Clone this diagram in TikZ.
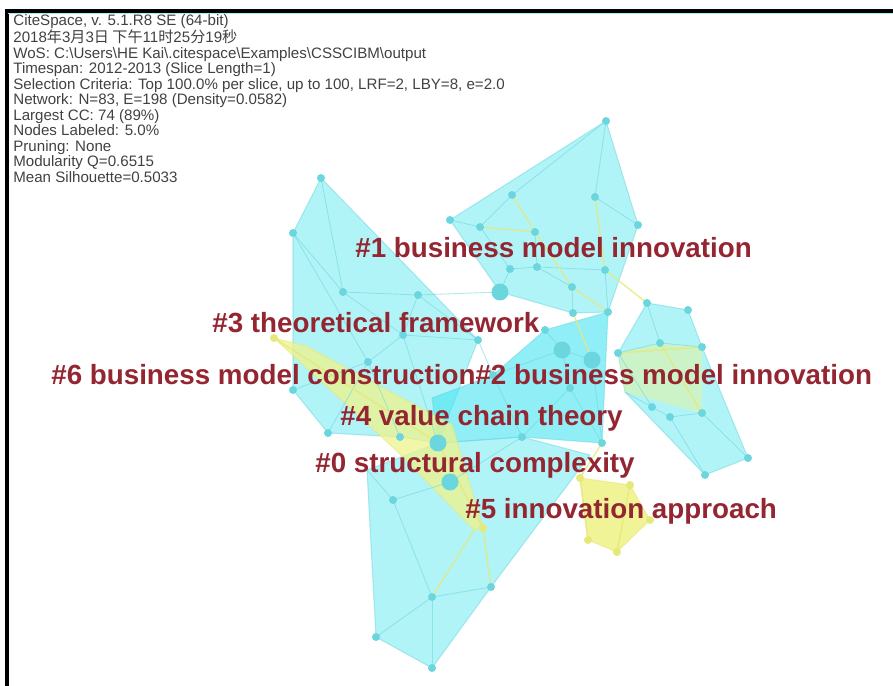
\documentclass[tikz,border=0pt]{standalone}
\usepackage{fontspec}
\setmainfont{Liberation Sans}
\newfontfamily\cjk{Noto Sans CJK SC}
\usetikzlibrary{positioning}

\definecolor{hullcyan}{RGB}{158,241,246}
\definecolor{corecyan}{RGB}{70,228,240}
\definecolor{dotcyan}{RGB}{108,214,222}
\definecolor{hullyellow}{RGB}{238,243,140}
\definecolor{dotyellow}{RGB}{230,232,120}
\definecolor{tagred}{RGB}{148,38,50}
\definecolor{infogray}{RGB}{65,65,65}

\begin{document}
\begin{tikzpicture}[
    x=0.02cm, y=-0.02cm,
    hull/.style={fill=hullcyan, fill opacity=0.8, draw=dotcyan, draw opacity=0.5, line width=0.6pt},
    yhull/.style={fill=hullyellow, fill opacity=0.75, draw=dotyellow, draw opacity=0.6, line width=0.6pt},
    link/.style={draw=dotcyan, draw opacity=0.55, line width=0.5pt},
    ylink/.style={draw=dotyellow, draw opacity=0.8, line width=0.8pt},
    dot/.style={circle, fill=dotcyan, inner sep=0pt, minimum size=0.16cm},
    bigdot/.style={dot, minimum size=0.34cm},
    ydot/.style={dot, fill=dotyellow},
    tag/.style={anchor=base west, inner sep=0pt, text=tagred, font=\fontsize{15.8}{18}\selectfont\bfseries}
]
\useasboundingbox (0,0) rectangle (893,686);

% frame
\draw[line width=2pt] (7,686) -- (7,11) -- (893,11);
\draw[hullcyan, line width=0.8pt] (8,13.5) -- (893,13.5);

% run info
\node[anchor=north west, align=left, inner sep=0pt, text=infogray,
      font=\fontsize{8.6}{8.8}\selectfont] (info) at (13,14) {%
CiteSpace, v. 5.1.R8 SE (64-bit)\\
2018{\cjk 年}3{\cjk 月}3{\cjk 日 下午}11{\cjk 时}25{\cjk 分}19{\cjk 秒}\\
WoS: C:\textbackslash Users\textbackslash HE Kai\textbackslash .citespace\textbackslash Examples\textbackslash CSSCIBM\textbackslash output\\
Timespan: 2012-2013 (Slice Length=1)\\
Selection Criteria: Top 100.0\% per slice, up to 100, LRF=2, LBY=8, e=2.0\\
Network: N=83, E=198 (Density=0.0582)\\
Largest CC: 74 (89\%)\\
Nodes Labeled: 5.0\%\\
Pruning: None\\
Modularity Q=0.6515\\
Mean Silhouette=0.5033};

% north cluster
\coordinate (n1) at (606,121);
\coordinate (n2) at (450,220);
\coordinate (n3) at (638,225);
\coordinate (n4) at (480,227);
\coordinate (n5) at (512,195);
\coordinate (n6) at (595,197);
\coordinate (n7) at (535,232);
\coordinate (n8) at (510,269);
\coordinate (n9) at (537,267);
\coordinate (n10) at (605,270);
\coordinate (n11) at (572,287);
\coordinate (n12) at (500,292);
\coordinate (n13) at (573,313);
\coordinate (n14) at (608,312);
% west cluster
\coordinate (w1) at (321,178);
\coordinate (w2) at (293,233);
\coordinate (w3) at (343,292);
\coordinate (w4) at (418,295);
\coordinate (w5) at (478,340);
\coordinate (w6) at (403,335);
\coordinate (w7) at (293,390);
\coordinate (w8) at (328,433);
\coordinate (w9) at (400,437);
\coordinate (w10) at (438,443);
\coordinate (w11) at (368,362);
% core cluster
\coordinate (c1) at (562,350);
\coordinate (c2) at (592,360);
\coordinate (c3) at (522,437);
\coordinate (c4) at (602,443);
\coordinate (c5) at (493,375);
\coordinate (c6) at (570,388);
\coordinate (c7) at (450,482);
\coordinate (c8) at (545,330);
\coordinate (c9) at (432,398);
% east cluster
\coordinate (e1) at (647,303);
\coordinate (e2) at (688,310);
\coordinate (e3) at (660,343);
\coordinate (e4) at (702,347);
\coordinate (e5) at (618,353);
\coordinate (e6) at (652,407);
\coordinate (e7) at (670,417);
\coordinate (e8) at (702,413);
\coordinate (e9) at (748,458);
\coordinate (e10) at (705,475);
\coordinate (e11) at (625,392);
% south cluster
\coordinate (s1) at (393,500);
\coordinate (s2) at (376,637);
\coordinate (s3) at (432,668);
\coordinate (s4) at (491,587);
\coordinate (s5) at (432,597);
\coordinate (s6) at (367,470);
\coordinate (s7) at (483,528);
\coordinate (s8) at (590,455);
% yellow clusters
\coordinate (t1) at (274,338);
\coordinate (t2) at (306,346);
\coordinate (t3) at (452,425);
\coordinate (t4) at (474,530);
\coordinate (t5) at (398,452);
\coordinate (y1) at (588,540);
\coordinate (y2) at (617,552);
\coordinate (y3) at (580,478);
\coordinate (y4) at (630,485);
\coordinate (y5) at (650,520);

% hulls
\draw[hull] (w1) -- (w5) -- (w10) -- (w9) -- (w8) -- (w7) -- (w2) -- cycle;
\draw[hull] (n1) -- (n3) -- (n14) -- (n13) -- (n12) -- (n2) -- cycle;
\draw[hull] (e1) -- (e2) -- (e4) -- (e9) -- (e10) -- (e11) -- (e5) -- cycle;
\draw[hull] (s6) -- (s2) -- (s3) -- (s4) -- (s8) -- (c3) -- (w10) -- cycle;
\draw[hull, fill=corecyan, fill opacity=0.6] (n14) -- (c4) -- (c3) -- (w10) -- (c9) -- (c5) -- (c8) -- cycle;
\draw[yhull] (t1) -- (t2) -- (t3) -- (s7) -- (t4) -- (t5) -- cycle;
\draw[yhull, fill opacity=0.9] (y3) -- (y4) -- (y5) -- (y2) -- (y1) -- cycle;
\fill[hullyellow, opacity=0.45] (e5) -- (e3) -- (e4) -- (e8) -- (e11) -- cycle;

% links
\foreach \a/\b in {w1/w3, w2/w3, w3/w4, w3/w6, w4/w6, w4/w5, w6/w5, w2/w11,
    w11/w6, w11/w8, w7/w11, w6/w10, w9/w11, w4/n12, w5/c5,
    n2/n4, n4/n5, n5/n1, n1/n6, n6/n3, n4/n8, n8/n12, n8/n9, n9/n11, n11/n13,
    n9/n10, n10/n14, n7/n9,
    c1/c2, c1/c8, c2/c4, c5/c1, c6/c4, c6/c3, c1/c6, c5/c3,
    e1/e3, e3/e5, e3/e4, e5/e6, e6/e7, e7/e8, e8/e9, e7/e10, e6/e11,
    s6/s1, s1/s5, s5/s2, s5/s3, s5/s4, s1/c7, c7/c3}
  \draw[link] (\a) -- (\b);
\foreach \a/\b in {n4/n7, n5/n7, n7/n11, n6/n10, n10/e1, n13/c2, n11/n14,
    e5/e4, e3/e8, t1/w10, w10/s7, s7/s4, s5/t4, y3/y1, y4/y2, c4/y3}
  \draw[ylink] (\a) -- (\b);

% dots
\foreach \p in {n1, n2, n3, n4, n5, n6, n7, n8, n9, n10, n11, n13, n14,
    w1, w2, w3, w4, w5, w6, w7, w8, w9, w11,
    c3, c4, c5, c6, c8,
    e1, e2, e3, e4, e5, e6, e7, e8, e9, e10,
    s1, s2, s3, s4, s5}
  \node[dot] at (\p) {};
\foreach \p in {n12, w10, c1, c2, c7}
  \node[bigdot] at (\p) {};
\foreach \p in {t1, s7, y1, y2, y3, y4, y5}
  \node[ydot] at (\p) {};

% cluster labels
\node[tag] (lab1) at (355,257) {\#1 business model innovation};
\node[tag] (lab3) at (212,332) {\#3 theoretical framework};
\node[tag] (lab6) at (51,384) {\#6 business model construction\#2 business model innovation};
\node[tag] (lab4) at (340,425) {\#4 value chain theory};
\node[tag] (lab0) at (315,472) {\#0 structural complexity};
\node[tag] (lab5) at (465,518) {\#5 innovation approach};

\end{tikzpicture}
\end{document}
